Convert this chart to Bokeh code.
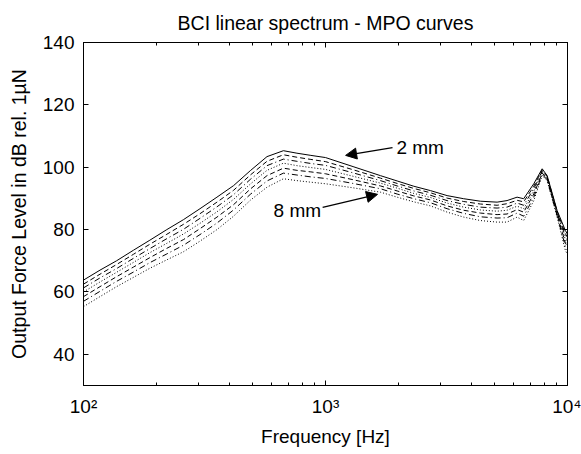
from bokeh.plotting import figure
from bokeh.models import LinearAxis, LogAxis, FixedTicker, Label, Arrow, NormalHead, Range1d
from bokeh.embed import file_html
from bokeh.resources import INLINE

# ---------------- data ----------------
freq_hz = [100, 117, 137, 161, 188, 221, 259, 303, 356, 417, 489, 573, 670, 762, 870,
           1000, 1300, 1687, 1977, 2317, 2716, 3180, 3725, 4365, 5117, 5625, 6190, 6590,
           7255, 7860, 8240, 9060, 9800, 10000]

mpo_2mm = [63.8, 67.0, 70.0, 73.4, 76.6, 80.0, 83.2, 86.7, 90.4, 94.1, 98.9, 103.4, 105.3, 104.5, 103.8,
           103.1, 100.2, 97.3, 95.6, 93.9, 92.5, 90.9, 89.9, 89.1, 88.8, 89.3, 90.4, 89.9,
           94.7, 99.5, 97.3, 86.1, 79.7, 78.5]
mpo_3mm = [62.5, 65.7, 68.8, 72.1, 75.3, 78.5, 81.7, 85.1, 88.8, 92.6, 97.5, 101.9, 104.0, 103.2, 102.5,
           101.8, 99.2, 96.5, 94.8, 93.2, 91.8, 90.1, 89.0, 88.2, 87.8, 88.3, 89.4, 88.9,
           93.9, 99.2, 97.1, 85.8, 78.7, 77.5]
mpo_4mm = [61.3, 64.5, 67.5, 70.8, 73.9, 77.1, 80.1, 83.6, 87.3, 91.2, 96.1, 100.5, 102.6, 101.9, 101.2,
           100.6, 98.2, 95.7, 94.0, 92.4, 91.0, 89.3, 88.1, 87.2, 86.9, 87.2, 88.5, 87.8,
           93.1, 98.8, 96.8, 85.5, 77.8, 76.6]
mpo_5mm = [60.0, 63.2, 66.3, 69.5, 72.6, 75.6, 78.6, 82.0, 85.7, 89.7, 94.6, 99.0, 101.3, 100.5, 99.9,
           99.3, 97.1, 94.9, 93.3, 91.6, 90.3, 88.5, 87.2, 86.3, 85.9, 86.2, 87.5, 86.7,
           92.3, 98.5, 96.6, 85.2, 76.8, 75.6]
mpo_6mm = [58.5, 61.7, 64.9, 68.0, 71.0, 74.0, 76.8, 80.3, 84.0, 88.0, 93.0, 97.3, 99.7, 99.0, 98.5,
           97.9, 96.0, 94.0, 92.4, 90.8, 89.5, 87.6, 86.2, 85.3, 84.8, 85.0, 86.4, 85.6,
           91.4, 98.1, 96.3, 84.8, 75.7, 74.5]
mpo_7mm = [57.0, 60.2, 63.4, 66.4, 69.4, 72.2, 75.0, 78.4, 82.1, 86.3, 91.3, 95.6, 98.1, 97.5, 96.9,
           96.4, 94.8, 93.1, 91.4, 89.9, 88.6, 86.7, 85.2, 84.1, 83.7, 83.8, 85.3, 84.3,
           90.4, 97.7, 96.0, 84.4, 74.6, 73.3]
mpo_8mm = [55.3, 58.5, 61.7, 64.7, 67.6, 70.3, 72.9, 76.3, 80.0, 84.3, 89.4, 93.6, 96.3, 95.7, 95.2,
           94.7, 93.4, 92.0, 90.4, 88.9, 87.6, 85.6, 84.0, 82.9, 82.4, 82.4, 84.0, 82.9,
           89.3, 97.3, 95.7, 84.0, 73.3, 72.0]

curves = [mpo_2mm, mpo_3mm, mpo_4mm, mpo_5mm, mpo_6mm, mpo_7mm, mpo_8mm]

y_ticks = [40, 60, 80, 100, 120, 140]
x_ticks = [100, 1000, 10000]
x_minor_ticks = [200, 300, 400, 500, 600, 700, 800, 900,
                 2000, 3000, 4000, 5000, 6000, 7000, 8000, 9000]
x_tick_labels = {100: "10²", 1000: "10³", 10000: "10⁴"}

# annotations: text and arrow (tail -> tip) in data units
label_2mm = "2 mm"
label_2mm_pos = (1963, 106.3)
arrow_2mm = (1892, 106.3, 1211, 103.8)
label_8mm = "8 mm"
label_8mm_pos = (610, 86.2)
arrow_8mm = (973, 87.1, 1641, 91.3)

# ---------------- styles ----------------
FONT = "Liberation Sans"
dashes = ["solid", "5 3", "6 3 1 3", "1 2", "5 3", "6 3 1 3", "1 2"]

p = figure(frame_width=484, frame_height=343, x_axis_type="log",
           x_range=Range1d(100, 10000), y_range=Range1d(30, 140),
           output_backend="svg", toolbar_location=None,
           title="BCI linear spectrum - MPO curves",
           min_border_left=83, min_border_right=14, min_border_top=42, min_border_bottom=60)

p.title.text_font = FONT
p.title.text_font_size = "19.5px"
p.title.text_font_style = "normal"
p.title.align = "center"
p.title.text_color = "black"
p.title.standoff = 17

p.xgrid.visible = False
p.ygrid.visible = False
p.outline_line_color = "black"
p.outline_line_width = 1
p.background_fill_color = "white"
p.border_fill_color = "white"

for c, d in zip(curves, dashes):
    p.line(freq_hz, c, line_color="black", line_width=1, line_dash=d)


def style_axis(ax, show_labels):
    ax.axis_line_color = "black"
    ax.major_tick_in = 5
    ax.major_tick_out = 0
    ax.minor_tick_in = 3
    ax.minor_tick_out = 0
    ax.major_tick_line_color = "black"
    ax.major_label_text_font = FONT
    if show_labels:
        ax.major_label_text_font_size = "19px"
        ax.major_label_text_color = "black"
    else:
        ax.major_label_text_font_size = "1px"
        ax.major_label_text_color = None
        ax.major_label_standoff = 0


xax = p.xaxis[0]
xax.ticker = FixedTicker(ticks=x_ticks, minor_ticks=x_minor_ticks)
xax.major_label_overrides = x_tick_labels
style_axis(xax, True)
xax.major_label_standoff = 10
xax.axis_label = "Frequency [Hz]"
xax.axis_label_text_font = FONT
xax.axis_label_text_font_size = "19px"
xax.axis_label_text_font_style = "normal"
xax.axis_label_text_color = "black"
xax.axis_label_standoff = 6

yax = p.yaxis[0]
yax.ticker = FixedTicker(ticks=y_ticks)
style_axis(yax, True)
yax.minor_tick_line_color = None
yax.major_label_standoff = 9
yax.axis_label = "Output Force Level in dB rel. 1µN"
yax.axis_label_text_font = FONT
yax.axis_label_text_font_size = "19.5px"
yax.axis_label_text_font_style = "normal"
yax.axis_label_text_color = "black"
yax.axis_label_standoff = 10

top_ax = LogAxis(ticker=FixedTicker(ticks=x_ticks, minor_ticks=x_minor_ticks))
style_axis(top_ax, False)
p.add_layout(top_ax, "above")

right_ax = LinearAxis(ticker=FixedTicker(ticks=y_ticks))
style_axis(right_ax, False)
right_ax.minor_tick_line_color = None
p.add_layout(right_ax, "right")

# annotations
p.add_layout(Label(x=label_2mm_pos[0], y=label_2mm_pos[1], text=label_2mm,
                   text_font=FONT, text_font_size="19px", text_baseline="middle",
                   text_align="left", text_color="black"))
p.add_layout(Label(x=label_8mm_pos[0], y=label_8mm_pos[1], text=label_8mm,
                   text_font=FONT, text_font_size="19px", text_baseline="middle",
                   text_align="left", text_color="black"))
for a in (arrow_2mm, arrow_8mm):
    p.add_layout(Arrow(end=NormalHead(size=11, fill_color="black", line_color="black"),
                       x_start=a[0], y_start=a[1], x_end=a[2], y_end=a[3],
                       line_color="black", line_width=1.2))

open("out.html", "w").write(file_html(p, INLINE))
